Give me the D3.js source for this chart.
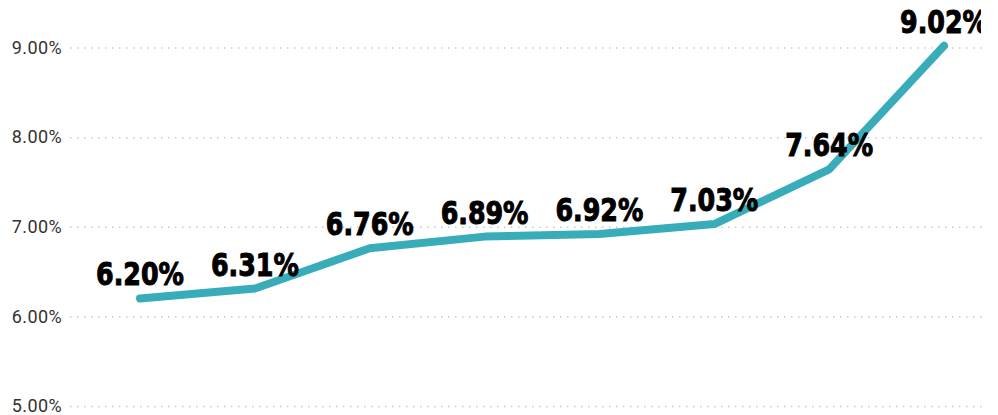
<!DOCTYPE html>
<html>
<head>
<meta charset="utf-8">
<script src="https://cdn.jsdelivr.net/npm/d3@7"></script>
<style>
  body { margin: 0; background: #ffffff; }
  svg { display: block; }
</style>
</head>
<body>
<svg id="chart"></svg>
<script>
const width = 998;
const height = 415;

// Chart data (no x labels shown in the original, categories are just ordered steps)
const categories = ["A", "B", "C", "D", "E", "F", "G", "H"];
const rates = [0.0620, 0.0631, 0.0676, 0.0689, 0.0692, 0.0703, 0.0764, 0.0902];
const yTicks = [0.05, 0.06, 0.07, 0.08, 0.09];

const layout = {plotLeft: 70, plotRight: 982, firstX: 140, lastX: 944, yBottom: 406, yTop: 47.5};

// labels in the original are a condensed heavy face, squeeze the installed one
const labelSqueeze = 0.88;

const svg = d3.select("#chart")
    .attr("width", width)
    .attr("height", height);

let x = d3.scalePoint()
    .domain(categories)
    .range([layout.firstX, layout.lastX]);

let y = d3.scaleLinear()
    .domain([0.05, 0.09])
    .range([layout.yBottom, layout.yTop]);

// Gridlines + tick labels, done with an axis then restyled
let yAxis = svg.append("g")
    .attr("transform", "translate(" + layout.plotLeft + ",0)")
    .call(d3.axisLeft(y)
        .tickValues(yTicks)
        .tickFormat(d3.format(".2%"))
        .tickSize(-(layout.plotRight - layout.plotLeft))
        .tickPadding(8));

yAxis.select(".domain").remove();
yAxis.selectAll(".tick line")
    .attr("stroke", "#c8c8c8")
    .attr("stroke-width", 1.5)
    .attr("stroke-dasharray", "1.5,5.5");
yAxis.selectAll(".tick text")
    .attr("fill", "#333333")
    .style("font-family", "Roboto, 'DejaVu Sans', sans-serif")
    .style("font-size", "18px")
    .style("letter-spacing", "0.4px");

// the last label runs past the plot and gets cut off
svg.append("clipPath")
    .attr("id", "plotClip")
    .append("rect")
    .attr("x", 0)
    .attr("y", 0)
    .attr("width", 981)
    .attr("height", height);

let line = d3.line()
    .x((d, i) => x(categories[i]))
    .y(d => y(d));

svg.append("path")
    .datum(rates)
    .attr("d", line)
    .attr("fill", "none")
    .attr("stroke", "#38adb9")
    .attr("stroke-width", 8)
    .attr("stroke-linecap", "round")
    .attr("stroke-linejoin", "bevel");

svg.append("g")
    .attr("clip-path", "url(#plotClip)")
    .selectAll("text")
    .data(rates)
    .join("text")
    .attr("transform", (d, i) => "translate(" + x(categories[i]) + "," + (y(d) - 13) + ") scale(" + labelSqueeze + ",1)")
    .attr("text-anchor", "middle")
    .style("font-family", "'DejaVu Sans Condensed', 'DejaVu Sans', sans-serif")
    .style("font-weight", "bold")
    .style("font-size", "32px")
    .attr("fill", "#000000")
    .attr("stroke", "#000000")
    .attr("stroke-width", 1)
    .text(d => d3.format(".2%")(d));
</script>
</body>
</html>
